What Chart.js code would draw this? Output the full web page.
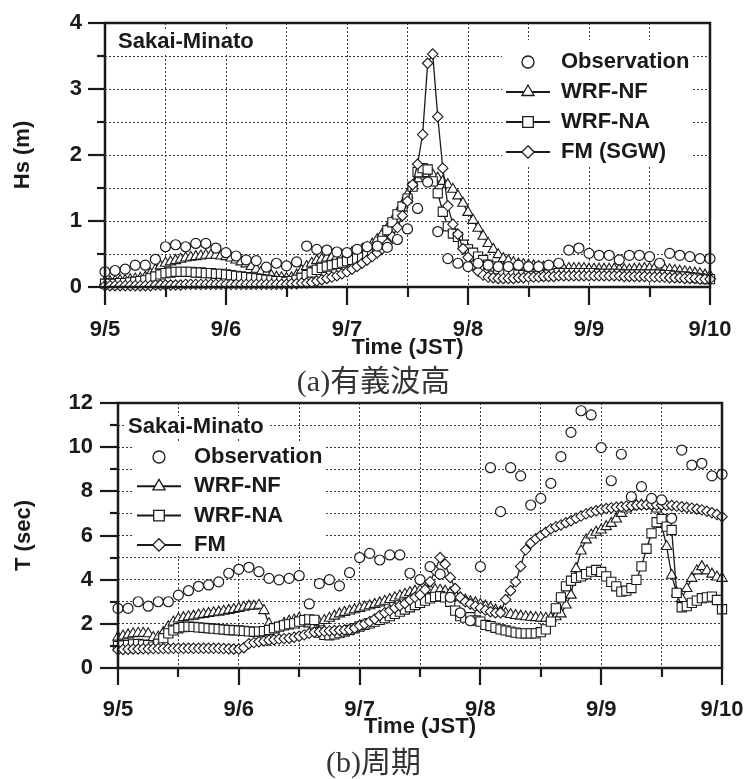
<!DOCTYPE html>
<html><head><meta charset="utf-8">
<script src="https://cdn.jsdelivr.net/npm/chart.js@4.4.1/dist/chart.umd.min.js"></script>
<style>
html,body{margin:0;padding:0;background:#fff;}
#wrap{position:relative;width:747px;height:779px;overflow:hidden;background:#fff;}
canvas{position:absolute;left:0;}
#c1{top:0;width:747px;height:365px;}
#c2{top:375px;width:747px;height:375px;}
.cap{position:absolute;left:0;width:747px;text-align:center;font-family:"Liberation Serif","Noto Sans CJK JP",serif;font-size:30px;color:#333;line-height:30px;z-index:5;}
</style></head><body>
<div id="wrap">
<canvas id="c1" width="747" height="365"></canvas>
<canvas id="c2" width="747" height="375"></canvas>
<div class="cap" style="top:366px;">(a)有義波高</div>
<div class="cap" style="top:747px;">(b)周期</div>
</div>
<script>
// ---------- DATA ----------
const dayLabels = ['9/5','9/6','9/7','9/8','9/9','9/10'];
const seriesNamesA = ['Observation','WRF-NF','WRF-NA','FM (SGW)'];
const seriesNamesB = ['Observation','WRF-NF','WRF-NA','FM'];
const stationName = 'Sakai-Minato';

// observation times (hours after 9/5 00:00 JST), every 2 h
const obsHours = [0,2,4,6,8,10,12,14,16,18,20,22,24,26,28,30,32,34,36,38,40,42,44,46,48,50,52,54,56,58,
  60,62,64,66,68,70,72,74,76,78,80,82,84,86,88,90,92,94,96,98,100,102,104,106,108,110,112,114,116,118,120];
// model output times, hourly
const modelHours = [0,1,2,3,4,5,6,7,8,9,10,11,12,13,14,15,16,17,18,19,20,21,22,23,24,25,26,27,28,29,
  30,31,32,33,34,35,36,37,38,39,40,41,42,43,44,45,46,47,48,49,50,51,52,53,54,55,56,57,58,59,
  60,61,62,63,64,65,66,67,68,69,70,71,72,73,74,75,76,77,78,79,80,81,82,83,84,85,86,87,88,89,
  90,91,92,93,94,95,96,97,98,99,100,101,102,103,104,105,106,107,108,109,110,111,112,113,114,115,116,117,118,119,120];

// (a) significant wave height Hs (m)
const obsHs = [0.23,0.25,0.27,0.33,0.33,0.42,0.61,0.64,0.61,0.66,
  0.66,0.59,0.52,0.47,0.41,0.40,0.30,0.36,0.32,0.38,
  0.62,0.57,0.56,0.53,0.52,0.57,0.61,0.62,0.60,0.72,
  0.88,1.19,1.59,0.84,0.43,0.36,0.31,0.36,0.33,0.31,
  0.31,0.33,0.31,0.31,0.33,0.36,0.56,0.59,0.51,0.48,
  0.48,0.41,0.48,0.48,0.46,0.36,0.51,0.48,0.46,0.43,0.43];
const nfHs = [0.08,0.08,0.09,0.10,0.10,0.11,0.12,0.13,0.15,0.20,
  0.26,0.32,0.36,0.38,0.40,0.42,0.44,0.45,0.46,0.47,
  0.48,0.48,0.48,0.47,0.46,0.44,0.41,0.38,0.35,0.31,
  0.27,0.23,0.20,0.17,0.15,0.14,0.13,0.14,0.18,0.25,
  0.31,0.36,0.40,0.42,0.44,0.45,0.46,0.48,0.50,0.52,
  0.54,0.57,0.60,0.65,0.72,0.80,0.89,1.00,1.12,1.25,
  1.40,1.53,1.64,1.70,1.72,1.70,1.65,1.60,1.55,1.48,
  1.38,1.27,1.13,1.01,0.89,0.77,0.66,0.57,0.49,0.43,
  0.40,0.37,0.35,0.34,0.33,0.32,0.31,0.30,0.29,0.28,
  0.27,0.27,0.28,0.28,0.28,0.28,0.27,0.27,0.27,0.27,
  0.27,0.27,0.26,0.26,0.26,0.27,0.27,0.28,0.28,0.28,
  0.28,0.27,0.26,0.25,0.24,0.23,0.22,0.21,0.20,0.18,0.17];
const naHs = [0.05,0.05,0.05,0.06,0.06,0.07,0.08,0.09,0.10,0.13,
  0.16,0.19,0.21,0.22,0.23,0.23,0.23,0.23,0.22,0.22,
  0.21,0.21,0.20,0.20,0.19,0.18,0.17,0.16,0.15,0.14,
  0.13,0.12,0.11,0.10,0.09,0.09,0.08,0.09,0.11,0.14,
  0.18,0.22,0.26,0.29,0.31,0.33,0.35,0.37,0.39,0.41,
  0.43,0.45,0.48,0.52,0.56,0.70,0.86,0.98,1.10,1.22,
  1.34,1.52,1.74,1.80,1.78,1.60,1.42,1.14,0.92,0.81,
  0.76,0.64,0.57,0.52,0.46,0.41,0.34,0.31,0.27,0.24,
  0.22,0.20,0.19,0.18,0.17,0.17,0.17,0.18,0.19,0.20,
  0.21,0.21,0.21,0.21,0.21,0.21,0.21,0.21,0.20,0.20,
  0.20,0.20,0.20,0.19,0.19,0.19,0.19,0.19,0.19,0.19,
  0.19,0.18,0.18,0.17,0.16,0.16,0.15,0.14,0.13,0.12,0.12];
const fmHs = [0.02,0.02,0.02,0.02,0.02,0.02,0.02,0.02,0.02,0.02,
  0.03,0.03,0.03,0.03,0.03,0.03,0.04,0.04,0.04,0.04,
  0.04,0.04,0.04,0.04,0.04,0.04,0.04,0.04,0.04,0.04,
  0.04,0.04,0.04,0.04,0.04,0.04,0.04,0.05,0.05,0.06,
  0.06,0.07,0.09,0.11,0.13,0.15,0.17,0.20,0.23,0.27,
  0.31,0.36,0.41,0.46,0.52,0.58,0.66,0.76,0.90,1.08,
  1.30,1.55,1.86,2.31,3.39,3.53,2.58,1.80,1.23,0.95,
  0.80,0.58,0.45,0.33,0.24,0.18,0.15,0.14,0.13,0.13,
  0.13,0.13,0.14,0.14,0.15,0.15,0.15,0.16,0.16,0.16,
  0.17,0.17,0.17,0.17,0.17,0.17,0.17,0.17,0.17,0.17,
  0.17,0.17,0.17,0.16,0.16,0.16,0.16,0.16,0.15,0.15,
  0.15,0.15,0.14,0.14,0.14,0.13,0.13,0.13,0.12,0.12,0.12];

// (b) wave period T (sec)
const obsT = [2.7,2.7,3.0,2.8,3.0,3.0,3.3,3.5,3.7,3.76,
  3.9,4.29,4.47,4.56,4.36,4.06,3.99,4.06,4.18,2.9,
  3.82,4.0,3.72,4.32,5.0,5.19,4.89,5.12,5.12,4.29,
  4.0,4.59,4.25,3.2,2.5,2.14,4.59,9.07,7.08,9.07,
  8.7,7.38,7.68,8.36,9.57,10.67,11.65,11.46,9.98,8.48,
  9.68,7.76,8.21,7.68,7.61,6.78,9.87,9.19,9.27,8.7,8.77];
const nfT = [1.40,1.45,1.50,1.55,1.57,1.57,1.55,1.38,1.40,1.60,
  1.87,2.08,2.22,2.28,2.32,2.35,2.40,2.43,2.47,2.50,
  2.53,2.57,2.61,2.65,2.70,2.75,2.80,2.80,2.84,2.60,
  2.00,1.75,1.85,2.02,2.12,2.17,2.25,2.15,2.00,1.95,
  2.05,2.15,2.25,2.35,2.45,2.52,2.58,2.64,2.70,2.76,
  2.82,2.88,2.95,3.02,3.10,3.18,3.26,3.34,3.42,3.48,
  3.52,3.54,3.55,3.54,3.52,3.48,3.40,3.30,3.18,3.08,
  3.00,2.95,2.88,2.80,2.72,2.62,2.55,2.48,2.42,2.38,
  2.35,2.32,2.30,2.28,2.26,2.25,2.26,2.32,2.45,2.85,
  3.30,4.50,5.30,5.80,6.02,6.15,6.25,6.40,6.55,6.75,
  7.00,7.20,7.30,7.35,7.38,7.38,7.35,7.20,6.50,5.50,
  4.20,3.40,3.15,3.60,4.06,4.40,4.59,4.40,4.25,4.12,4.06];
const naT = [0.99,1.02,1.04,1.07,1.09,1.06,1.04,0.97,1.10,1.35,
  1.57,1.70,1.80,1.85,1.87,1.86,1.84,1.82,1.80,1.78,
  1.76,1.74,1.72,1.71,1.70,1.68,1.66,1.64,1.65,1.67,
  1.72,1.80,1.87,1.93,1.98,2.02,2.10,2.17,2.20,2.18,
  1.60,1.50,1.48,1.52,1.58,1.65,1.72,1.80,1.88,1.95,
  2.02,2.10,2.18,2.26,2.35,2.45,2.55,2.65,2.75,2.85,
  2.95,3.05,3.15,3.22,3.25,3.20,3.00,2.60,2.35,2.28,
  2.30,2.15,2.10,1.95,1.90,1.82,1.75,1.70,1.65,1.60,
  1.57,1.57,1.57,1.57,1.62,1.75,2.10,2.70,3.20,3.70,
  3.95,4.08,4.15,4.25,4.36,4.44,4.35,4.15,3.90,3.70,
  3.46,3.50,3.62,3.99,4.60,5.40,6.10,6.60,6.75,6.40,
  6.25,3.40,2.75,2.80,2.95,3.05,3.16,3.20,3.23,3.08,2.66];
const fmT = [0.82,0.84,0.85,0.86,0.86,0.87,0.87,0.88,0.88,0.88,
  0.88,0.89,0.89,0.89,0.89,0.89,0.89,0.89,0.89,0.89,
  0.89,0.88,0.87,0.86,0.86,0.92,1.10,1.15,1.19,1.22,
  1.26,1.28,1.31,1.33,1.35,1.39,1.44,1.50,1.57,1.62,
  1.64,1.66,1.68,1.70,1.71,1.72,1.74,1.80,1.92,2.00,
  2.10,2.22,2.38,2.50,2.60,2.72,2.82,2.92,3.08,3.20,
  3.31,3.55,3.91,4.40,5.00,4.70,4.10,3.60,3.20,3.00,
  2.90,2.80,2.72,2.62,2.55,2.50,2.50,3.10,3.50,3.90,
  4.60,5.35,5.65,5.85,6.00,6.15,6.30,6.40,6.48,6.58,
  6.67,6.78,6.88,6.98,7.05,7.12,7.18,7.22,7.25,7.28,
  7.30,7.33,7.35,7.37,7.38,7.39,7.39,7.38,7.38,7.37,
  7.36,7.33,7.30,7.27,7.24,7.20,7.16,7.10,7.03,6.95,6.85];

// ---------- RENDERING ----------
const FONT = '"Liberation Sans", Arial, Helvetica, sans-serif';
const INK = '#1a1a1a';

function pts(xs, ys){ return ys.map((v,i)=>({x:xs[i], y:v})); }

function drawMarker(ctx, style, x, y, r){
  ctx.beginPath();
  if (style === 'circle') { ctx.arc(x, y, r, 0, Math.PI*2); }
  else if (style === 'triangle') {
    for (let k=0;k<3;k++){ const a=-Math.PI/2 + k*2*Math.PI/3; const px=x+r*Math.cos(a), py=y+r*Math.sin(a); if(k===0) ctx.moveTo(px,py); else ctx.lineTo(px,py); }
    ctx.closePath();
  } else if (style === 'rect') { const s=r*Math.SQRT1_2; ctx.rect(x-s,y-s,2*s,2*s); }
  else { ctx.moveTo(x,y-r); ctx.lineTo(x+r,y); ctx.lineTo(x,y+r); ctx.lineTo(x-r,y); ctx.closePath(); }
  ctx.fillStyle='#fff'; ctx.fill(); ctx.stroke();
}

const frameTicks = {
  id:'frameTicks',
  afterDraw(chart, args, o){
    const {ctx, chartArea:a} = chart; const x = chart.scales.x, y = chart.scales.y;
    ctx.save();
    ctx.strokeStyle = INK; ctx.lineWidth = o.tickWidth; ctx.lineCap='butt';
    x.ticks.forEach(t=>{
      const px = Math.round(x.getPixelForValue(t.value));
      const len = (t.value % o.xMajor === 0) ? o.xMajorLen : o.xMinorLen;
      ctx.beginPath(); ctx.moveTo(px, a.bottom); ctx.lineTo(px, a.bottom+len); ctx.stroke();
    });
    y.ticks.forEach(t=>{
      const py = Math.round(y.getPixelForValue(t.value));
      const len = (Math.abs(t.value/o.yMajor - Math.round(t.value/o.yMajor)) < 1e-6) ? o.yMajorLen : o.yMinorLen;
      ctx.beginPath(); ctx.moveTo(a.left, py); ctx.lineTo(a.left-len, py); ctx.stroke();
    });
    ctx.lineWidth = o.frameWidth;
    ctx.strokeRect(a.left, a.top, a.right-a.left, a.bottom-a.top);
    ctx.restore();
  }
};

const boxLegend = {
  id:'boxLegend',
  afterDatasetsDraw(chart, args, o){
    const ctx = chart.ctx;
    ctx.save();
    ctx.fillStyle = '#fff';
    ctx.fillRect(o.box[0], o.box[1], o.box[2], o.box[3]);
    ctx.fillRect(o.titleBox[0], o.titleBox[1], o.titleBox[2], o.titleBox[3]);
    ctx.font = 'bold 22px ' + FONT;
    ctx.textBaseline = 'middle'; ctx.textAlign = 'left';
    ctx.fillStyle = INK;
    ctx.fillText(o.title, o.titleX, o.titleY);
    chart.data.datasets.forEach((ds, i)=>{
      const yy = o.y0 + i*o.dy;
      ctx.strokeStyle = INK;
      if (ds.showLine !== false) {
        ctx.lineWidth = 2;
        ctx.beginPath(); ctx.moveTo(o.symX - o.lineHalf, yy); ctx.lineTo(o.symX + o.lineHalf, yy); ctx.stroke();
      }
      ctx.lineWidth = 1.3;
      drawMarker(ctx, ds.pointStyle, o.symX, yy, ds.pointRadius + 1);
      ctx.fillStyle = INK;
      ctx.fillText(ds.label, o.textX, yy);
    });
    ctx.restore();
  }
};

function makeDatasets(names, obs, nf, na, fm){
  const common = {borderColor:INK, pointBorderColor:INK, pointBackgroundColor:'#fff', clip:false, tension:0};
  return [
    Object.assign({}, common, {label:names[0], data:pts(obsHours, obs), showLine:false, pointStyle:'circle', pointRadius:5, pointBorderWidth:1.2, order:0}),
    Object.assign({}, common, {label:names[1], data:pts(modelHours, nf), borderWidth:1.3, pointStyle:'triangle', pointRadius:6, pointBorderWidth:1.1, order:3}),
    Object.assign({}, common, {label:names[2], data:pts(modelHours, na), borderWidth:1.3, pointStyle:'rect', pointRadius:6.5, pointBorderWidth:1.1, order:2}),
    Object.assign({}, common, {label:names[3], data:pts(modelHours, fm), borderWidth:1.3, pointStyle:'rectRot', pointRadius:5.2, pointBorderWidth:1.1, order:1})
  ];
}

function zeroPad(s){ s.paddingLeft = 0; s.paddingRight = 0; s.paddingTop = 0; s.paddingBottom = 0; }

function makeOptions(p){
  const tickFont = {family:FONT, size:22, weight:'bold'};
  return {
    responsive:false, animation:false, events:[],
    layout:{autoPadding:false, padding:{left:0, right:p.padRight, top:p.padTop, bottom:0}},
    plugins:{
      legend:{display:false}, tooltip:{enabled:false},
      frameTicks:{xMajor:24, xMajorLen:p.xMajorLen, xMinorLen:p.xMinorLen, yMajor:p.yMajor, yMajorLen:p.yMajorLen, yMinorLen:8, frameWidth:2.5, tickWidth:2.2},
      boxLegend:p.legend
    },
    scales:{
      x:{type:'linear', min:0, max:120,
        afterFit:s=>{ s.height = p.xHeight; zeroPad(s); },
        ticks:{stepSize:12, autoSkip:false, maxRotation:0, minRotation:0, maxTicksLimit:100, padding:p.xTickPad,
          font:tickFont, color:INK,
          callback:v=> (v % 24 === 0) ? dayLabels[v/24] : ''},
        grid:{color:'#3a3a3a', lineWidth:1, drawTicks:false},
        border:{display:false, dash:[2,2]},
        title:{display:true, text:'Time (JST)', font:tickFont, color:INK, padding:{top:0, bottom:p.xTitlePad}}
      },
      y:{type:'linear', min:0, max:p.yMax,
        afterFit:s=>{ s.width = p.yWidth; zeroPad(s); },
        ticks:{stepSize:p.yStep, autoSkip:false, maxTicksLimit:100, padding:p.yTickPad, font:tickFont, color:INK,
          callback:v=> (Math.abs(v/p.yMajor - Math.round(v/p.yMajor)) < 1e-6) ? String(v) : ''},
        grid:{color:'#3a3a3a', lineWidth:1, drawTicks:false},
        border:{display:false, dash:[2,2]},
        title:{display:true, text:p.yTitle, font:tickFont, color:INK, padding:{top:p.yTitlePad, bottom:0}}
      }
    }
  };
}

new Chart(document.getElementById('c1'), {
  type:'line',
  data:{datasets:makeDatasets(seriesNamesA, obsHs, nfHs, naHs, fmHs)},
  options:makeOptions({padRight:37, padTop:23, xHeight:78, yWidth:105, xTickPad:30, xTitlePad:4,
    yMax:4, yStep:0.5, yMajor:1, yTickPad:23, yTitle:'Hs (m)', yTitlePad:10,
    xMajorLen:18, xMinorLen:10, yMajorLen:17,
    legend:{box:[502,40,190,125], titleBox:[116,31,146,22], title:stationName, titleX:118, titleY:42,
      symX:528, lineHalf:22, textX:561, y0:62, dy:30}}),
  plugins:[frameTicks, boxLegend]
});

new Chart(document.getElementById('c2'), {
  type:'line',
  data:{datasets:makeDatasets(seriesNamesB, obsT, nfT, naT, fmT)},
  options:makeOptions({padRight:25, padTop:28, xHeight:82, yWidth:118, xTickPad:29, xTitlePad:10,
    yMax:12, yStep:1, yMajor:2, yTickPad:25, yTitle:'T (sec)', yTitlePad:11,
    xMajorLen:17, xMinorLen:9, yMajorLen:18,
    legend:{box:[133,68,192,113], titleBox:[126,41,142,22], title:stationName, titleX:128, titleY:52,
      symX:159, lineHalf:22, textX:194, y0:82, dy:29.3}}),
  plugins:[frameTicks, boxLegend]
});
</script>
</body></html>
